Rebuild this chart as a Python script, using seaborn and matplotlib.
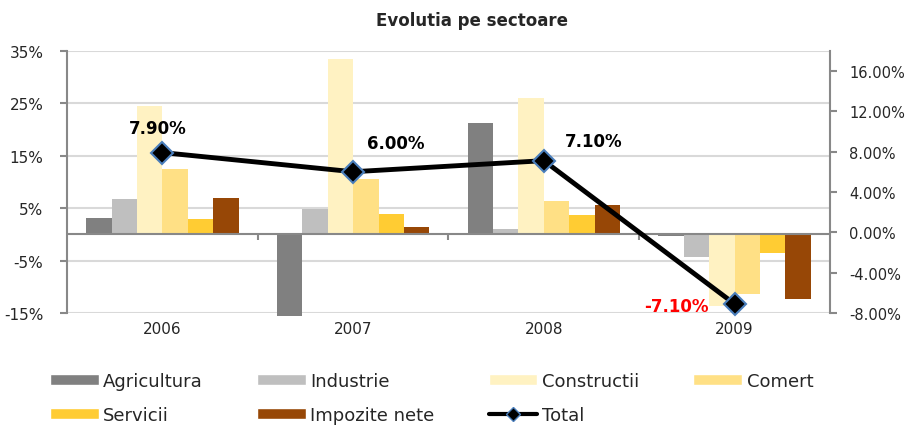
import numpy as np
import pandas as pd
import seaborn as sns
import matplotlib.pyplot as plt
from matplotlib.patches import Patch
from matplotlib.lines import Line2D

years = ['2006', '2007', '2008', '2009']
sectors = ['Agricultura', 'Industrie', 'Constructii', 'Comert', 'Servicii', 'Impozite nete']
agricultura = [3.1, -15.6, 21.2, -0.3]
industrie = [6.8, 4.9, 1.1, -4.4]
constructii = [24.5, 33.4, 25.9, -13.7]
comert = [12.4, 10.6, 6.3, -11.3]
servicii = [2.9, 3.8, 3.6, -3.5]
impozite = [6.9, 1.4, 5.6, -12.4]
total = [7.9, 6.0, 7.1, -7.1]
total_labels = ['7.90%', '6.00%', '7.10%', '-7.10%']

colors = ['#808080', '#BFBFBF', '#FFF2C2', '#FFE085', '#FFCC33', '#974706']
grid_c = '#D9D9D9'
axis_c = '#888888'

sns.set_style('white')
plt.rcParams['font.family'] = ['DejaVu Sans']

values = [agricultura, industrie, constructii, comert, servicii, impozite]
df = pd.DataFrame({
    'an': years * len(sectors),
    'sector': np.repeat(sectors, len(years)),
    'val': np.concatenate(values),
})

fig = plt.figure(figsize=(9.06, 4.27), dpi=100)
ax = fig.add_axes([0.074, 0.2646, 0.842, 0.6144])
ax2 = ax.twinx()

sns.barplot(data=df, x='an', y='val', hue='sector', hue_order=sectors, order=years,
            palette=colors, saturation=1, width=0.8, ax=ax, legend=False, zorder=2)
for p in ax.patches:
    p.set_clip_on(False)
    p.set_linewidth(0)

ax.set_ylim(-15, 35)
ax.set_xlim(-0.5, 3.5)
ax.set_yticks(np.arange(-15, 36, 10))
ax.set_yticklabels([f'{v}%' for v in range(-15, 36, 10)])
for v in range(-15, 36, 10):
    ax.axhline(v, color=grid_c, lw=1.5, zorder=0)
ax.axhline(0, color=axis_c, lw=1.5, zorder=3)
ax.vlines([0.5, 1.5, 2.5], -1.0, 0, color=axis_c, lw=1.5, zorder=3)
ax.set_xlabel('')
ax.set_ylabel('')
for s in ['top', 'bottom', 'right']:
    ax.spines[s].set_visible(False)
ax.spines['left'].set_color(axis_c)
ax.spines['left'].set_linewidth(1.5)

sns.lineplot(x=np.arange(len(years)), y=total, ax=ax2, color='black', lw=3.5,
             marker='D', markersize=11, markerfacecolor='black',
             markeredgecolor='#4A7EBB', markeredgewidth=1.5, zorder=5, clip_on=False)
ax2.set_ylim(-8, 18)
ax2.set_yticks(np.arange(-8, 17, 4))
ax2.set_yticklabels([f'{v:.2f}%' for v in range(-8, 17, 4)])
for s in ['top', 'bottom', 'left']:
    ax2.spines[s].set_visible(False)
ax2.spines['right'].set_color(axis_c)
ax2.spines['right'].set_linewidth(1.5)
ax2.set_ylabel('')

ax.tick_params(axis='y', which='major', left=True, length=5, width=1.5, color=axis_c,
               pad=12, labelsize=11)
ax.tick_params(axis='x', length=0, pad=6, labelsize=11)
ax2.tick_params(axis='y', which='major', right=True, length=5, width=1.5, color=axis_c,
                pad=9, labelsize=10.5)

offsets = [(-3, 18), (31, 21), (36, 14), (-42, -1.5)]
label_colors = ['black', 'black', 'black', '#FF0000']
for i, (lab, off, c) in enumerate(zip(total_labels, offsets, label_colors)):
    ax2.annotate(lab, (i, total[i]), xytext=off, textcoords='offset points',
                 ha='center', va='center', fontsize=12, fontweight='bold', color=c)

fig.text(0.521, 0.951, 'Evolutia pe sectoare', ha='center', va='center',
         fontsize=12, fontweight='bold')

patches = [Patch(facecolor=c, label=s) for c, s in zip(colors, sectors)]
total_handle = Line2D([], [], color='black', lw=3, marker='D', markersize=7,
                      markerfacecolor='black', markeredgecolor='#4A7EBB', label='Total')
# legend fills column by column, so order entries to read row by row
handles = [patches[0], patches[4], patches[1], patches[5], patches[2], total_handle, patches[3]]
fig.legend(handles=handles, loc='upper left', bbox_to_anchor=(0.045, 0.148), ncol=4,
           frameon=False, fontsize=13, handlelength=2.7, handleheight=0.6,
           handletextpad=0.25, columnspacing=3.0, labelspacing=0.9, borderpad=0)

fig.savefig('out.png', dpi=100)
